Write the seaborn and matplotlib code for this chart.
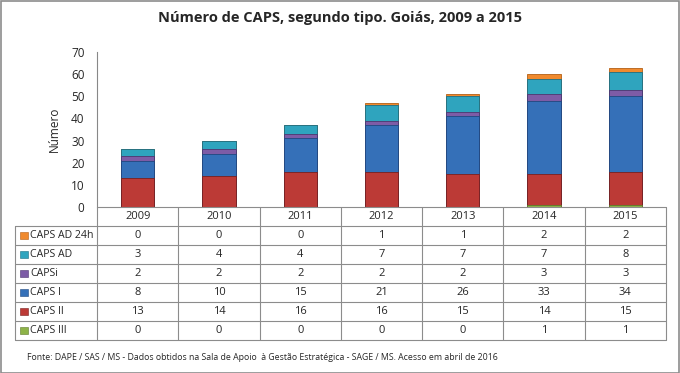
import numpy as np
import pandas as pd
import matplotlib
matplotlib.use("Agg")
import matplotlib.pyplot as plt
import seaborn as sns
from matplotlib.lines import Line2D
from matplotlib.patches import Rectangle

years = ["2009", "2010", "2011", "2012", "2013", "2014", "2015"]
series_names = ["CAPS AD 24h", "CAPS AD", "CAPSi", "CAPS I", "CAPS II", "CAPS III"]
caps_ad24 = [0, 0, 0, 1, 1, 2, 2]
caps_ad = [3, 4, 4, 7, 7, 7, 8]
caps_i_inf = [2, 2, 2, 2, 2, 3, 3]
caps_1 = [8, 10, 15, 21, 26, 33, 34]
caps_2 = [13, 14, 16, 16, 15, 14, 15]
caps_3 = [0, 0, 0, 0, 0, 1, 1]
series_values = [caps_ad24, caps_ad, caps_i_inf, caps_1, caps_2, caps_3]
colors = ["#F08A2E", "#2FA4BE", "#7D5CA6", "#3570B8", "#BC3A36", "#8DB348"]
edges = ["#B35F14", "#1B6F84", "#4E3570", "#1F4880", "#7A1F1D", "#5D7A2A"]

sns.set_style("white")
plt.rcParams['font.family'] = ['Open Sans', 'DejaVu Sans']

W, H = 680, 373
fig = plt.figure(figsize=(W / 100, H / 100), dpi=100)

def fx(px):
    return px / W

def fy(py):
    return 1 - py / H

x0, x1 = 97, 666
ax = fig.add_axes([fx(x0), fy(207), fx(x1 - x0), fy(52) - fy(207)])

df = pd.DataFrame({"ano": years})
# stacking bottom -> top: CAPS III, CAPS II, CAPS I, CAPSi, CAPS AD, CAPS AD 24h
order_bottom_up = list(range(len(series_names)))[::-1]
cum = np.zeros(len(years))
cums = {}
for i in order_bottom_up:
    cum = cum + np.array(series_values[i])
    cums[i] = cum.copy()
# draw from the top layer (largest cumulative) down so lower layers overlay
for i in range(len(series_names)):
    d = df.copy()
    d["v"] = cums[i]
    sns.barplot(data=d, x="ano", y="v", ax=ax, color=colors[i], width=0.41,
                edgecolor=edges[i], linewidth=0.6, saturation=1)

ax.set_xlim(-0.5, 6.5)
ax.set_ylim(0, 70)
ax.set_yticks(range(0, 71, 10))
ax.tick_params(axis="y", labelsize=8.5, length=4, width=0.8, color="#888888", pad=5)
ax.set_xticks([])
ax.set_xlabel("")
ax.set_ylabel("Número", fontsize=8.5, labelpad=7)
for s in ["top", "right", "bottom"]:
    ax.spines[s].set_visible(False)
ax.spines["left"].set_color("#888888")
ax.spines["left"].set_linewidth(0.8)

# data table below
tab = fig.add_axes([fx(x0), fy(340), fx(x1 - x0), fy(207) - fy(340)])
tab.set_xlim(-0.5, 6.5)
tab.set_ylim(7, 0)
tab.axis("off")
lc = "#8C8C8C"
colw_px = (x1 - x0) / 7
left_ext = -0.5 - (x0 - 15) / colw_px
# horizontal lines
tab.add_line(Line2D([-0.5, 6.5], [0, 0], color=lc, lw=0.8, clip_on=False))
for r in range(1, 8):
    tab.add_line(Line2D([left_ext, 6.5], [r, r], color=lc, lw=0.8, clip_on=False))
# vertical lines
for c in range(8):
    tab.add_line(Line2D([c - 0.5, c - 0.5], [0, 7], color=lc, lw=0.8, clip_on=False))
tab.add_line(Line2D([left_ext, left_ext], [1, 7], color=lc, lw=0.8, clip_on=False))
fs = 8
for j, y in enumerate(years):
    tab.text(j, 0.5, y, ha="center", va="center", fontsize=fs)
key_w = 8 / colw_px
for i, name in enumerate(series_names):
    r = i + 1
    tab.add_patch(Rectangle((left_ext + 5 / colw_px, r + 0.3), key_w, 0.4,
                            facecolor=colors[i], edgecolor=edges[i], lw=0.4, clip_on=False))
    tab.text(left_ext + 15 / colw_px, r + 0.5, name, ha="left", va="center", fontsize=7.6)
    for j, v in enumerate(series_values[i]):
        tab.text(j, r + 0.5, str(v), ha="center", va="center", fontsize=fs)

fig.text(fx(340), fy(18), "Número de CAPS, segundo tipo. Goiás, 2009 a 2015",
         ha="center", va="center", fontsize=10.5, fontweight="bold")
fig.text(fx(27), fy(357),
         "Fonte: DAPE / SAS / MS - Dados obtidos na Sala de Apoio  à Gestão Estratégica - SAGE / MS. Acesso em abril de 2016",
         ha="left", va="center", fontsize=6.3)

fig.add_artist(Rectangle((0.5 / W, 0.5 / H), 1 - 1.5 / W, 1 - 1.5 / H,
                         transform=fig.transFigure, fill=False, edgecolor="#8C8C8C", lw=1.2))

fig.savefig("out.png", dpi=100)
